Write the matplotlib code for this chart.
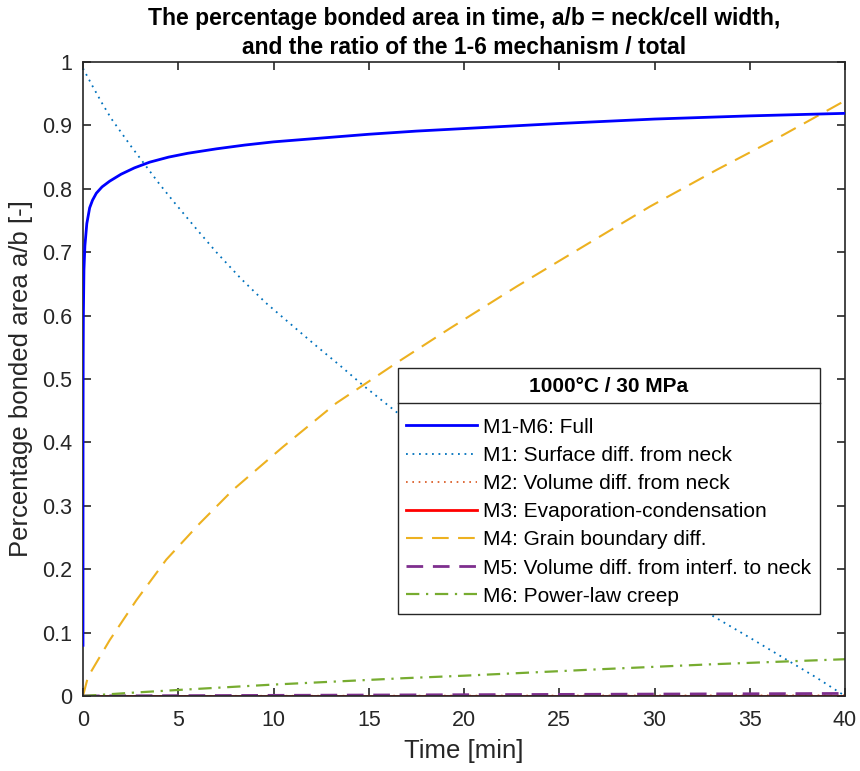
import numpy as np
import matplotlib.pyplot as plt
from matplotlib.lines import Line2D

plt.rcParams['font.family'] = ['Liberation Sans', 'DejaVu Sans']

# time [min] and a/b values per mechanism
t_full = [0, 0.003, 0.01, 0.02, 0.05, 0.1, 0.2, 0.35, 0.5, 0.7, 1.0, 1.4, 2.0,
          2.7, 3.5, 4.5, 5.5, 7, 8.5, 10, 12.5, 15, 17.5, 20, 25, 30, 35, 40]
ab_full = [0.08, 0.40, 0.53, 0.60, 0.672, 0.71, 0.745, 0.770, 0.782, 0.793, 0.803,
           0.812, 0.823, 0.833, 0.842, 0.850, 0.856, 0.863, 0.869, 0.874, 0.880,
           0.886, 0.891, 0.895, 0.903, 0.910, 0.915, 0.919]

t_m1 = [0, 0.5, 1.0, 1.5, 2.0, 2.5, 3.25, 4.0, 4.75, 6.0, 7.0, 8.3, 9.6, 11.0,
        12.25, 13.5, 14.7, 16.45, 18.0, 20, 22.5, 25, 27.5, 30, 32, 33.3, 35, 37,
        38.5, 40]
ab_m1 = [0.99, 0.962, 0.935, 0.910, 0.889, 0.868, 0.838, 0.808, 0.780, 0.735, 0.700,
         0.658, 0.620, 0.584, 0.552, 0.521, 0.490, 0.448, 0.413, 0.370, 0.320, 0.272,
         0.225, 0.180, 0.145, 0.122, 0.092, 0.056, 0.029, 0.0]

t_m2 = [0, 10, 20, 30, 40]
ab_m2 = [0.0, 0.0004, 0.0006, 0.0008, 0.001]

t_m3 = [0, 10, 20, 30, 40]
ab_m3 = [0.0, 0.0, 0.0, 0.0, 0.0]

t_m4 = [0, 0.26, 1.4, 2.8, 4.37, 6.12, 7.87, 10.5, 13.3, 16.54, 19.27, 22.77,
        26.26, 29.76, 33.27, 36.76, 40]
ab_m4 = [0.0, 0.030, 0.088, 0.151, 0.215, 0.272, 0.325, 0.393, 0.462, 0.527,
         0.580, 0.646, 0.709, 0.772, 0.830, 0.885, 0.939]

t_m5 = [0, 10, 20, 30, 40]
ab_m5 = [0.0, 0.001, 0.002, 0.003, 0.004]

t_m6 = [0, 2.5, 5, 10, 16.8, 20, 27, 33, 40]
ab_m6 = [0.0, 0.005, 0.0095, 0.018, 0.028, 0.032, 0.042, 0.050, 0.058]

labels = ['M1-M6: Full', 'M1: Surface diff. from neck', 'M2: Volume diff. from neck',
          'M3: Evaporation-condensation', 'M4: Grain boundary diff.',
          'M5: Volume diff. from interf. to neck', 'M6: Power-law creep']

fig = plt.figure(figsize=(8.6, 7.71), dpi=100)
ax = fig.add_axes([0.0965, 0.0973, 0.8861, 0.8223])

ax.plot(t_full, ab_full, color='#0000ff', lw=2.0, label=labels[0], zorder=3)
ax.plot(t_m1, ab_m1, color='#0072BD', lw=1.3, ls=(0, (1, 2.6)), label=labels[1])
ax.plot(t_m2, ab_m2, color='#D95319', lw=1.2, ls=(0, (1, 2.8)), label=labels[2])
ax.plot(t_m3, ab_m3, color='#ff0000', lw=2.0, label=labels[3])
ax.plot(t_m4, ab_m4, color='#EDB120', lw=1.5, ls=(0, (8, 4.5)), label=labels[4])
ax.plot(t_m5, ab_m5, color='#7E2F8E', lw=2.0, ls=(0, (6, 3.5)), label=labels[5])
ax.plot(t_m6, ab_m6, color='#77AC30', lw=1.6, ls=(0, (6, 3, 1, 3)), label=labels[6])

ax.set_xlim(0, 40)
ax.set_ylim(0, 1)
ax.set_xticks(np.arange(0, 41, 5))
ax.set_yticks(np.arange(0, 1.01, 0.1))
ax.set_yticklabels(['0', '0.1', '0.2', '0.3', '0.4', '0.5', '0.6', '0.7', '0.8', '0.9', '1'])
ax.tick_params(direction='in', length=6, width=1.2, top=True, right=True,
               labelsize=15.5, colors='0.15')
ax.tick_params(axis='x', pad=10)
ax.tick_params(axis='y', pad=8)
for s in ax.spines.values():
    s.set_color('0.15')
    s.set_linewidth(1.2)

ax.set_xlabel('Time [min]', fontsize=18.5, color='0.15', labelpad=6)
ax.set_ylabel('Percentage bonded area a/b [-]', fontsize=18.5, color='0.15', labelpad=6)
ax.set_title('The percentage bonded area in time, a/b = neck/cell width,\n'
             'and the ratio of the 1-6 mechanism / total',
             fontsize=16.5, fontweight='bold', pad=6, linespacing=1.3)

leg = ax.legend(loc='upper left', bbox_to_anchor=(0.413, 0.517), fontsize=15,
                title='1000°C / 30 MPa', title_fontproperties={'weight': 'bold', 'size': 15},
                handlelength=3.4, handletextpad=0.3, labelspacing=0.44,
                borderpad=0.4, borderaxespad=0, fancybox=False, framealpha=1,
                edgecolor='0.15')
leg.get_frame().set_linewidth(1.0)
leg._legend_box.sep = 16

# separator line between the legend title and its entries
fig.canvas.draw()
r = fig.canvas.get_renderer()
fb = leg.get_frame().get_window_extent(r)
tb = leg.get_title().get_window_extent(r)
sep_y = tb.y0 - 7
fig.add_artist(Line2D([fb.x0 / fig.bbox.width, fb.x1 / fig.bbox.width],
                      [sep_y / fig.bbox.height] * 2, transform=fig.transFigure,
                      color='0.15', lw=1.0, zorder=10))

fig.savefig('out.png', dpi=100)
